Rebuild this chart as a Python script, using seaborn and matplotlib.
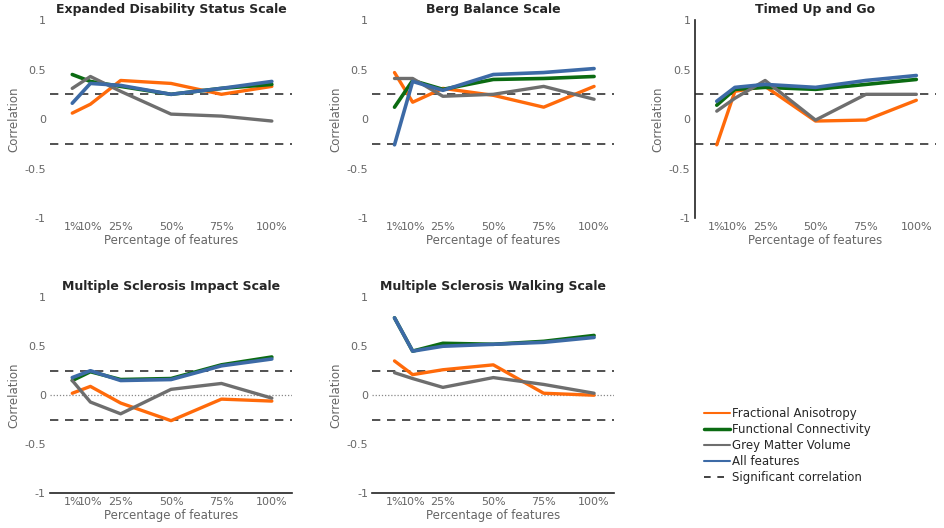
import numpy as np
import pandas as pd
import matplotlib
matplotlib.use("Agg")
import matplotlib.pyplot as plt
import seaborn as sns
from matplotlib.lines import Line2D

percent = [1, 10, 25, 50, 75, 100]
tick_labels = ["1%", "10%", "25%", "50%", "75%", "100%"]
features = ["Fractional Anisotropy", "Functional Connectivity", "Grey Matter Volume", "All features"]
titles = ["Expanded Disability Status Scale", "Berg Balance Scale", "Timed Up and Go",
          "Multiple Sclerosis Impact Scale", "Multiple Sclerosis Walking Scale"]

edss_fa = [0.06, 0.15, 0.39, 0.36, 0.25, 0.33]
edss_fc = [0.45, 0.38, 0.33, 0.25, 0.31, 0.35]
edss_gmv = [0.31, 0.43, 0.28, 0.05, 0.03, -0.02]
edss_all = [0.16, 0.36, 0.34, 0.25, 0.31, 0.38]

bbs_fa = [0.47, 0.17, 0.31, 0.24, 0.12, 0.33]
bbs_fc = [0.12, 0.39, 0.30, 0.40, 0.41, 0.43]
bbs_gmv = [0.41, 0.41, 0.23, 0.25, 0.33, 0.20]
bbs_all = [-0.26, 0.38, 0.29, 0.45, 0.47, 0.51]

tug_fa = [-0.26, 0.28, 0.33, -0.02, -0.01, 0.19]
tug_fc = [0.14, 0.30, 0.32, 0.30, 0.35, 0.40]
tug_gmv = [0.08, 0.21, 0.39, -0.01, 0.25, 0.25]
tug_all = [0.18, 0.32, 0.35, 0.32, 0.39, 0.44]

msis_fa = [0.02, 0.09, -0.08, -0.26, -0.04, -0.06]
msis_fc = [0.15, 0.24, 0.16, 0.17, 0.31, 0.39]
msis_gmv = [0.15, -0.07, -0.19, 0.06, 0.12, -0.03]
msis_all = [0.18, 0.25, 0.15, 0.16, 0.30, 0.37]

msws_fa = [0.35, 0.21, 0.26, 0.31, 0.02, 0.0]
msws_fc = [0.79, 0.45, 0.53, 0.52, 0.55, 0.61]
msws_gmv = [0.23, 0.17, 0.08, 0.18, 0.11, 0.02]
msws_all = [0.79, 0.45, 0.50, 0.52, 0.54, 0.59]

sig_level = 0.25

panels = [
    (edss_fa, edss_fc, edss_gmv, edss_all),
    (bbs_fa, bbs_fc, bbs_gmv, bbs_all),
    (tug_fa, tug_fc, tug_gmv, tug_all),
    (msis_fa, msis_fc, msis_gmv, msis_all),
    (msws_fa, msws_fc, msws_gmv, msws_all),
]

colors = {"Fractional Anisotropy": "#ff6a0a",
          "Functional Connectivity": "#0b6b12",
          "Grey Matter Volume": "#6e6e6e",
          "All features": "#3c6aa6"}
widths = {"Fractional Anisotropy": 2.4, "Functional Connectivity": 2.6,
          "Grey Matter Volume": 2.4, "All features": 2.6}

sns.set_style("white")
plt.rcParams['font.family'] = ['DejaVu Sans']

fig = plt.figure(figsize=(9.45, 5.28), dpi=100)
lefts = [0.053, 0.394, 0.735]
w = 0.256
positions = [
    (lefts[0], 0.587, w, 0.375),
    (lefts[1], 0.587, w, 0.375),
    (lefts[2], 0.587, w, 0.375),
    (lefts[0], 0.066, w, 0.371),
    (lefts[1], 0.066, w, 0.371),
]

tick_color = "#666666"
for i, (vals, title, pos) in enumerate(zip(panels, titles, positions)):
    ax = fig.add_axes(pos)
    rows = []
    for f, v in zip(features, vals):
        for p, y in zip(percent, v):
            rows.append({"pct": p, "corr": y, "feature": f})
    df = pd.DataFrame(rows)
    for f in features:
        sns.lineplot(data=df[df.feature == f], x="pct", y="corr", color=colors[f],
                     lw=widths[f], ax=ax, legend=False, zorder=3)
    ax.axhline(sig_level, color="#333333", ls=(0, (5, 4)), lw=1.2, zorder=1)
    ax.axhline(-sig_level, color="#333333", ls=(0, (5, 4)), lw=1.2, zorder=1)
    if i >= 3:
        ax.axhline(0, color="#888888", ls=(0, (1, 1.5)), lw=0.9, zorder=1)
    ax.set_xlim(-10, 110)
    ax.set_ylim(-1, 1)
    ax.set_xticks(percent)
    ax.set_xticklabels(tick_labels)
    ax.set_yticks([-1, -0.5, 0, 0.5, 1])
    ax.set_yticklabels(["-1", "-0.5", "0", "0.5", "1"])
    ax.tick_params(axis="both", labelsize=8, colors=tick_color, length=0, pad=3)
    ax.set_xlabel("Percentage of features", fontsize=8.5, color=tick_color, labelpad=1)
    ax.set_ylabel("Correlation", fontsize=8.5, color=tick_color, labelpad=3)
    ax.set_title(title, fontsize=9, fontweight="bold", pad=5)
    for s in ax.spines.values():
        s.set_visible(False)
    if i == 2:
        ax.spines["left"].set_visible(True)
        ax.spines["left"].set_color("#222222")
        ax.spines["left"].set_linewidth(1.2)
    if i >= 3:
        ax.spines["bottom"].set_visible(True)
        ax.spines["bottom"].set_color("#222222")
        ax.spines["bottom"].set_linewidth(1.2)

handles = [Line2D([], [], color=colors[f], lw=1.5 if f != "Functional Connectivity" else 2.5) for f in features]
handles.append(Line2D([], [], color="#222222", ls=(0, (4, 4)), lw=1.2))
labels = features + ["Significant correlation"]
fig.legend(handles, labels, loc="upper left", bbox_to_anchor=(0.740, 0.238), frameon=False,
           fontsize=8.5, handlelength=2.2, handletextpad=0.2, labelspacing=0.25, borderaxespad=0)

fig.savefig("out.png", dpi=100)
